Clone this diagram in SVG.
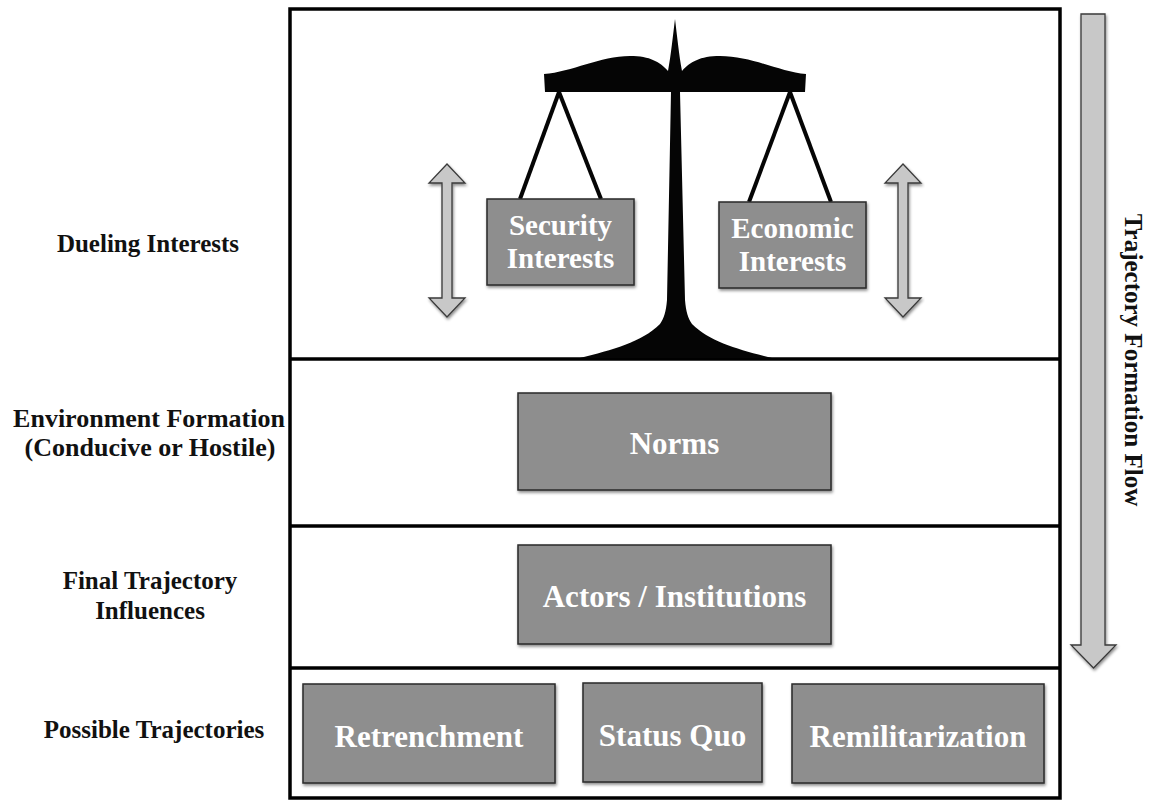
<svg xmlns="http://www.w3.org/2000/svg" width="1156" height="801" viewBox="0 0 1156 801">
  <defs>
    <filter id="sh" x="-10%" y="-10%" width="120%" height="130%">
      <feDropShadow dx="1" dy="2" stdDeviation="1.5" flood-color="#000" flood-opacity="0.45"/>
    </filter>
    <style>
      .lbl { font-family: "Liberation Serif", "Times New Roman", serif; font-weight: bold; fill: #111; text-anchor: middle; }
      .box rect { fill: #8e8e8e; stroke: #2a2a2a; stroke-width: 1.5; filter: url(#sh); }
      .box text { font-family: "Liberation Serif", "Times New Roman", serif; font-weight: bold; fill: #fff; text-anchor: middle; }
      .frame { fill: none; stroke: #000; stroke-width: 3.5; }
      .arr { fill: #c8c8c8; stroke: #3a3a3a; stroke-width: 1.3; stroke-linejoin: miter; filter: url(#sh); }
    </style>
  </defs>
  <rect width="1156" height="801" fill="#fff"/>

  <!-- frame and section dividers -->
  <g id="frame">
    <rect class="frame" x="290" y="9" width="770" height="789"/>
    <line class="frame" x1="290" y1="359" x2="1060" y2="359"/>
    <line class="frame" x1="290" y1="526" x2="1060" y2="526"/>
    <line class="frame" x1="290" y1="668" x2="1060" y2="668"/>
  </g>

  <!-- row labels -->
  <g id="labels">
    <text class="lbl" x="148" y="252" font-size="25">Dueling Interests</text>
    <text class="lbl" x="149" y="427" font-size="26">Environment Formation</text>
    <text class="lbl" x="150" y="456" font-size="26">(Conducive or Hostile)</text>
    <text class="lbl" x="150" y="589" font-size="25">Final Trajectory</text>
    <text class="lbl" x="150" y="619" font-size="25">Influences</text>
    <text class="lbl" x="154" y="738" font-size="25">Possible Trajectories</text>
  </g>

  <!-- scale of balance -->
  <g id="scale">
    <path fill="#050505" d="M 544 74 C 572 72, 600 56, 630 56 C 650 56, 660 62, 668 71 C 671 55, 673 35, 675 19 C 677 35, 679 55, 682 71 C 690 62, 700 56, 720 56 C 752 56, 780 72, 806 74 L 805 92 L 680 92 L 685 300 C 686 312, 688 318, 692 324 C 710 342, 740 350, 772 358 L 580 358 C 612 350, 642 342, 660 324 C 664 318, 666 312, 667 300 L 671 92 L 545 92 Z"/>
    <g stroke="#050505" stroke-width="4" stroke-linecap="butt">
      <line x1="559" y1="92" x2="520" y2="199"/>
      <line x1="559" y1="92" x2="601" y2="199"/>
      <line x1="790" y1="92" x2="749" y2="202"/>
      <line x1="790" y1="92" x2="831" y2="202"/>
    </g>
  </g>

  <!-- up/down arrows -->
  <g id="connectors">
    <path class="arr" d="M 447 164 L 465 183 L 452 183 L 452 298 L 465 298 L 447 317 L 429 298 L 442 298 L 442 183 L 429 183 Z"/>
    <path class="arr" d="M 903 164 L 921 183 L 908 183 L 908 298 L 921 298 L 903 317 L 885 298 L 898 298 L 898 183 L 885 183 Z"/>
    <path class="arr" d="M 1081 14 L 1105 14 L 1105 645 L 1116 645 L 1093.5 668 L 1071 645 L 1081 645 Z"/>
  </g>
  <text id="flow-label" class="lbl" font-size="25" transform="translate(1125 360) rotate(90)" x="0" y="0">Trajectory Formation Flow</text>

  <!-- nodes -->
  <g id="security" class="box">
    <rect x="487" y="199" width="147" height="86"/>
    <text x="560.5" y="235" font-size="29">Security</text>
    <text x="560.5" y="268" font-size="29">Interests</text>
  </g>
  <g id="economic" class="box">
    <rect x="719" y="202" width="147" height="86"/>
    <text x="792.5" y="238" font-size="29">Economic</text>
    <text x="792.5" y="271" font-size="29">Interests</text>
  </g>
  <g id="norms" class="box">
    <rect x="518" y="393" width="313" height="97"/>
    <text x="674.5" y="454" font-size="31">Norms</text>
  </g>
  <g id="actors" class="box">
    <rect x="518" y="545" width="313" height="99"/>
    <text x="674.5" y="607" font-size="31">Actors / Institutions</text>
  </g>
  <g id="retrenchment" class="box">
    <rect x="303" y="684" width="252" height="99"/>
    <text x="429" y="747" font-size="31">Retrenchment</text>
  </g>
  <g id="statusquo" class="box">
    <rect x="583" y="683" width="179" height="99"/>
    <text x="672.5" y="746" font-size="31">Status Quo</text>
  </g>
  <g id="remilitarization" class="box">
    <rect x="792" y="684" width="252" height="99"/>
    <text x="918" y="747" font-size="31">Remilitarization</text>
  </g>
</svg>
